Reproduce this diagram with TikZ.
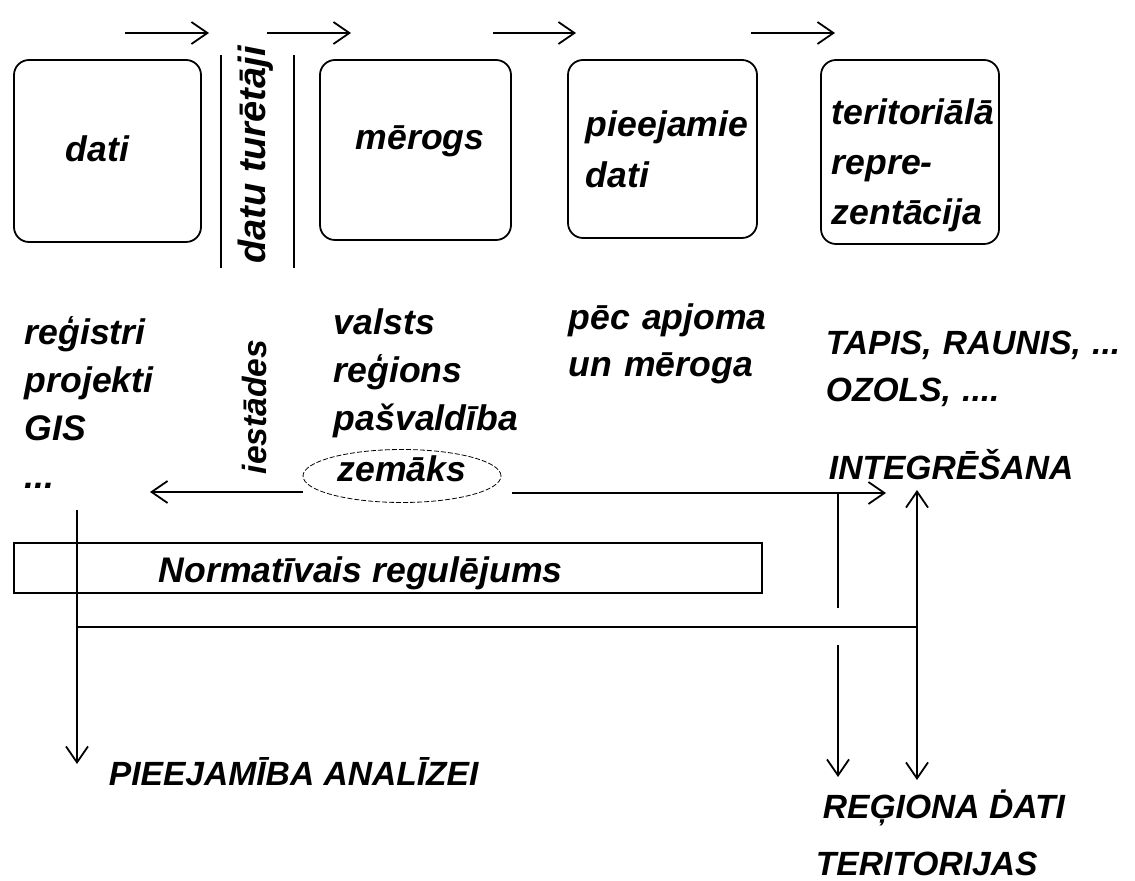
\documentclass[tikz,border=0pt]{standalone}
\usepackage{fontspec}
\setmainfont{Liberation Sans}
\usetikzlibrary{arrows.meta}
\usetikzlibrary{shapes.geometric}
\tikzset{
    rbox/.style={draw=black, rounded corners=7.5pt, inner sep=0pt},
    plainbox/.style={draw=black, inner sep=0pt},
    oval/.style={ellipse, draw=black, line width=.4pt, dash pattern=on 2.5pt off 1pt, inner sep=0pt},
    word/.style={font=\fontsize{17.8}{24}\selectfont\bfseries\itshape, inner sep=0pt, anchor=base west},
    lines/.style={word, text width=#1, align=left},
    caps/.style={font=\fontsize{16.8}{23.5}\selectfont\bfseries\itshape, inner sep=0pt, anchor=base west},
}

\begin{document}
\begin{tikzpicture}[x=0.5pt, y=-0.5pt, line width=.9pt, >={Straight Barb[length=8pt,width=11pt]}]
\useasboundingbox (0,0) rectangle (1135,881);

% arrows on top
\coordinate (a1s) at (125,33); \coordinate (a1e) at (209,33);
\coordinate (a2s) at (267,33); \coordinate (a2e) at (351,33);
\coordinate (a3s) at (493,33); \coordinate (a3e) at (576,33);
\coordinate (a4s) at (751,33); \coordinate (a4e) at (835,33);
\draw[->] (a1s) -- (a1e);
\draw[->] (a2s) -- (a2e);
\draw[->] (a3s) -- (a3e);
\draw[->] (a4s) -- (a4e);

% boxes
\node[rbox, minimum width=93.5pt, minimum height=91pt] (dati) at (107.5,151) {};
\node[word] (datit) at (65,162) {dati};
\node[rbox, minimum width=95.5pt, minimum height=90pt] (merogs) at (415.5,150) {};
\node[word] (merogst) at (355,150) {mērogs};
\node[rbox, minimum width=94.5pt, minimum height=89pt] (pieej) at (662.5,149) {};
\node[lines=100pt, font=\fontsize{17.8}{25.5}\selectfont\bfseries\itshape] (pieejt) at (585,137) {pieejamie\\dati};
\node[rbox, minimum width=89pt, minimum height=92pt] (terit) at (910,152) {};
\node[lines=100pt, font=\fontsize{17.8}{25}\selectfont\bfseries\itshape] (teritt) at (831,125) {teritoriālā\\repre-\\zentācija};

% datu turetaji
\coordinate (v1s) at (221,55); \coordinate (v1e) at (221,268);
\coordinate (v2s) at (294,55); \coordinate (v2e) at (294,268);
\draw (v1s) -- (v1e);
\draw (v2s) -- (v2e);
\node[word, anchor=center, rotate=90, font=\fontsize{19}{23}\selectfont\bfseries\itshape] (turet) at (256,155) {datu turētāji};

% lists
\node[lines=120pt] (regs) at (24,345) {reģistri\\projekti\\GIS\\...};
\node[word, anchor=center, rotate=90, font=\fontsize{16.8}{23}\selectfont\bfseries\itshape] (iest) at (254,407) {iestādes};
\node[lines=120pt] (vals) at (333,335) {valsts\\reģions\\pašvaldība};
\node[oval, word, anchor=center, minimum width=99pt, minimum height=26.5pt, text height=11pt, text depth=5pt] (zem) at (402,476) {zemāks};
\node[lines=120pt, font=\fontsize{17.8}{23.5}\selectfont\bfseries\itshape] (pec) at (568,330) {pēc apjoma\\un mēroga};
\node[caps, text width=180pt, align=left] (tapis) at (825,355) {TAPIS, RAUNIS, ...\\OZOLS, ....};
\node[caps] (integr) at (828,480) {INTEGRĒŠANA};

% zemaks arrows
\coordinate (al) at (150,492);
\coordinate (ar) at (886,493);
\draw[->] ([yshift=-8pt]zem.west) -- (al);
\draw[->] ([xshift=5.5pt,yshift=-8.5pt]zem.east) -- (ar);

% normativais
\node[plainbox, minimum width=374pt, minimum height=25pt] (norm) at (388,568) {};
\node[word] (normt) at (158,582) {Normatīvais regulējums};

% lines below
\coordinate (l1s) at (77,510); \coordinate (l1e) at (77,764);
\coordinate (h1) at (77,627); \coordinate (h2) at (917,627);
\coordinate (m1s) at (838,493); \coordinate (m1e) at (838,608);
\coordinate (m2s) at (838,645); \coordinate (m2e) at (838,777);
\coordinate (r1s) at (917,490); \coordinate (r1e) at (917,780);
\draw[->] (l1s) -- (l1e);
\draw (h1) -- (h2);
\draw (m1s) -- (m1e);
\draw[->] (m2s) -- (m2e);
\draw[<->] (r1s) -- (r1e);

\node[caps] (analiz) at (108,785) {PIEEJAMĪBA ANALĪZEI};
\node[caps] (regdat) at (822,818) {REĢIONA \.{D}ATI};
\node[caps] (territ) at (815,875) {TERITORIJAS};
\end{tikzpicture}
\end{document}
